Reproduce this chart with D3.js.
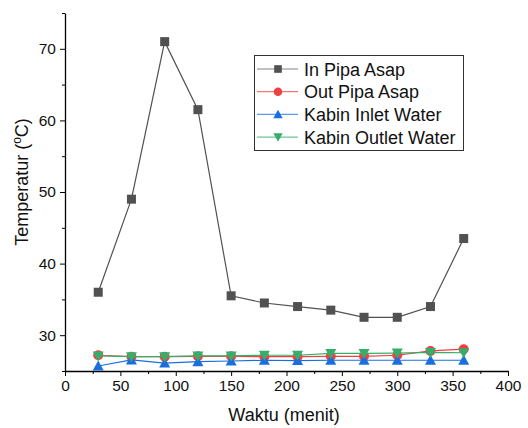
<!DOCTYPE html>
<html>
<head>
<meta charset="utf-8">
<script src="https://cdn.jsdelivr.net/npm/d3@7"></script>
<style>
  body { margin: 0; background: #fff; }
  svg { font-family: "Liberation Sans", Arial, sans-serif; }
</style>
</head>
<body>
<div id="chart"></div>
<script>
// data
const waktu = [30, 60, 90, 120, 150, 180, 210, 240, 270, 300, 330, 360];
const inPipaAsap = [36, 49, 71, 61.5, 35.5, 34.5, 34, 33.5, 32.5, 32.5, 34, 43.5];
const outPipaAsap = [27.2, 27.0, 27.0, 27.05, 27.05, 27.0, 27.0, 27.05, 27.05, 27.2, 27.8, 28.05];
const kabinInlet = [25.7, 26.55, 26.1, 26.3, 26.4, 26.5, 26.45, 26.5, 26.5, 26.5, 26.5, 26.5];
const kabinOutlet = [27.1, 27.0, 27.0, 27.1, 27.1, 27.2, 27.2, 27.45, 27.45, 27.5, 27.6, 27.55];
const xTicks = [0, 50, 100, 150, 200, 250, 300, 350, 400];
const yTicks = [30, 40, 50, 60, 70];

const series = [
  { name: "In Pipa Asap", values: inPipaAsap, color: "#515151", symbol: "square" },
  { name: "Out Pipa Asap", values: outPipaAsap, color: "#F14040", symbol: "circle" },
  { name: "Kabin Inlet Water", values: kabinInlet, color: "#1A6FDF", symbol: "up" },
  { name: "Kabin Outlet Water", values: kabinOutlet, color: "#37AD6B", symbol: "down" }
];

const width = 528, height = 428;
const plotL = 65, plotR = 508, plotT = 13, plotB = 371;

const svg = d3.select("#chart").append("svg")
    .attr("width", width)
    .attr("height", height);

const x = d3.scaleLinear().domain([0, 400]).range([plotL, plotR]);
const y = d3.scaleLinear().domain([25, 75]).range([plotB, plotT]);

// minor ticks first, then major axes on top
svg.append("g")
    .attr("transform", `translate(0,${plotB})`)
    .call(d3.axisBottom(x).tickValues(d3.range(25, 400, 50)).tickSize(3).tickFormat(""))
    .call(g => g.select(".domain").remove());
svg.append("g")
    .attr("transform", `translate(${plotL},0)`)
    .call(d3.axisLeft(y).tickValues([25, 35, 45, 55, 65, 75]).tickSize(3).tickFormat(""))
    .call(g => g.select(".domain").remove());

svg.append("g")
    .attr("transform", `translate(0,${plotB})`)
    .call(d3.axisBottom(x).tickValues(xTicks).tickSize(5).tickSizeOuter(0).tickPadding(4));
svg.append("g")
    .attr("transform", `translate(${plotL},0)`)
    .call(d3.axisLeft(y).tickValues(yTicks).tickSize(5).tickSizeOuter(0).tickPadding(4));

svg.selectAll(".domain").attr("stroke", "#000").attr("stroke-width", 1.3);
svg.selectAll(".tick line").attr("stroke", "#000").attr("stroke-width", 1);
svg.selectAll(".tick text").attr("font-size", 15.5).attr("fill", "#111")
    .attr("font-family", "Liberation Sans, Arial, sans-serif");

// axis titles
svg.append("text")
    .attr("x", 284)
    .attr("y", 421)
    .attr("text-anchor", "middle")
    .attr("font-size", 18)
    .attr("fill", "#111")
    .text("Waktu (menit)");

const yl = svg.append("text")
    .attr("transform", `translate(28,${(plotT + plotB) / 2 - 10}) rotate(-90)`)
    .attr("text-anchor", "middle")
    .attr("font-size", 18)
    .attr("fill", "#111");
yl.append("tspan").text("Temperatur (");
yl.append("tspan").attr("font-size", 12).attr("dy", -7).text("o");
yl.append("tspan").attr("dy", 7).text("C)");

function marker(sel, symbol, color) {
  if (symbol === "square") {
    sel.append("rect").attr("x", -4.5).attr("y", -4.5).attr("width", 9).attr("height", 9).attr("fill", color);
  } else if (symbol === "circle") {
    sel.append("circle").attr("r", 5).attr("fill", color);
  } else if (symbol === "up") {
    sel.append("path").attr("d", "M0,-5.5L5.5,4.5L-5.5,4.5Z").attr("fill", color);
  } else {
    sel.append("path").attr("d", "M0,5.5L5.5,-4.5L-5.5,-4.5Z").attr("fill", color);
  }
}

const line = d3.line().x(d => x(d[0])).y(d => y(d[1]));

series.forEach(s => {
  const pts = waktu.map((t, i) => [t, s.values[i]]);
  const g = svg.append("g");
  g.append("path")
      .attr("d", line(pts))
      .attr("fill", "none")
      .attr("stroke", s.color)
      .attr("stroke-width", 1.2);
  g.selectAll(".pt")
      .data(pts)
      .enter()
      .append("g")
      .attr("transform", d => `translate(${x(d[0])},${y(d[1])})`)
      .each(function () { marker(d3.select(this), s.symbol, s.color); });
});

// legend
const legend = svg.append("g");
legend.append("rect")
    .attr("x", 254.5).attr("y", 55.5)
    .attr("width", 209).attr("height", 95)
    .attr("fill", "#fff")
    .attr("stroke", "#333")
    .attr("stroke-width", 1);

series.forEach((s, i) => {
  const ly = 69 + i * 22.7;
  const row = legend.append("g");
  row.append("line")
      .attr("x1", 257).attr("x2", 298)
      .attr("y1", ly).attr("y2", ly)
      .attr("stroke", s.color)
      .attr("stroke-width", 1.2)
      .attr("opacity", 0.7);
  const m = row.append("g");
  marker(m, s.symbol, s.color);
  m.attr("transform", `translate(278,${ly}) scale(0.85)`);
  row.append("text")
      .attr("x", 304)
      .attr("y", ly + 6.5)
      .attr("font-size", 18)
      .attr("fill", "#111")
      .text(s.name);
});
</script>
</body>
</html>
